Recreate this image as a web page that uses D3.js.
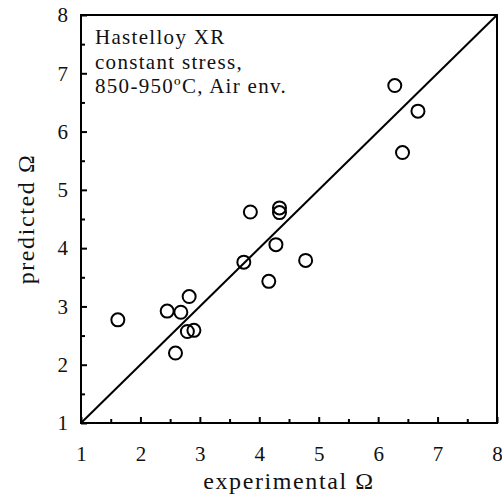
<!DOCTYPE html>
<html><head><meta charset="utf-8">
<script src="https://cdn.jsdelivr.net/npm/d3@7"></script>
<style>body{margin:0;background:#fff}svg{display:block}</style>
</head><body>
<svg id="c" width="502" height="495"></svg>
<script>
const experimental = [1.62,2.45,2.68,2.82,2.79,2.90,2.59,3.85,4.34,4.34,4.28,3.74,4.78,4.16,6.28,6.67,6.41];
const predicted    = [2.77,2.92,2.90,3.17,2.57,2.59,2.20,4.62,4.69,4.61,4.06,3.76,3.79,3.43,6.79,6.35,5.64];
const tickValues = [1,2,3,4,5,6,7,8];
const minorTicks = [1.5,2.5,3.5,4.5,5.5,6.5,7.5];
const annotation = ["Hastelloy XR","constant stress,","850-950ºC, Air env."];

const svg = d3.select("#c");
const L=81, R=497, T=15, B=423;
const x = d3.scaleLinear().domain([1,8]).range([L,R]);
const y = d3.scaleLinear().domain([1,8]).range([B,T]);
const font = "'Liberation Serif','Times New Roman',serif";

// minor ticks
const xm = svg.append("g").attr("transform",`translate(0,${B})`)
  .call(d3.axisBottom(x).tickValues(minorTicks).tickSize(-4).tickFormat(""));
const ym = svg.append("g").attr("transform",`translate(${L},0)`)
  .call(d3.axisLeft(y).tickValues(minorTicks).tickSize(-4).tickFormat(""));
// major ticks
const xa = svg.append("g").attr("transform",`translate(0,${B})`)
  .call(d3.axisBottom(x).tickValues(tickValues).tickSize(-6).tickPadding(23).tickFormat(d3.format("d")));
const ya = svg.append("g").attr("transform",`translate(${L},0)`)
  .call(d3.axisLeft(y).tickValues(tickValues).tickSize(-6).tickPadding(13).tickFormat(d3.format("d")));
[xm,ym,xa,ya].forEach(g=>{
  g.select(".domain").remove();
  g.selectAll("line").attr("stroke","#000").attr("stroke-width",2);
  g.selectAll("text").attr("font-family",font).attr("font-size",21).attr("fill","#111");
});

// frame
svg.append("rect").attr("x",L).attr("y",T).attr("width",R-L).attr("height",B-T)
  .attr("fill","none").attr("stroke","#000").attr("stroke-width",2);

// 1:1 line
svg.append("line").attr("x1",x(1)).attr("y1",y(1)).attr("x2",x(8)).attr("y2",y(8))
  .attr("stroke","#000").attr("stroke-width",2);

// points
svg.append("g").selectAll("circle").data(experimental.map((e,i)=>[e,predicted[i]]))
  .join("circle").attr("cx",d=>x(d[0])).attr("cy",d=>y(d[1])).attr("r",6.5)
  .attr("fill","none").attr("stroke","#000").attr("stroke-width",2);

// annotation
svg.append("g").selectAll("text").data(annotation).join("text")
  .attr("x",95).attr("y",(d,i)=>44+i*24.5)
  .attr("font-family",font).attr("font-size",21).attr("letter-spacing",1.3)
  .attr("fill","#111").text(d=>d);

// axis titles
svg.append("text").attr("x",(L+R)/2).attr("y",489).attr("text-anchor","middle")
  .attr("font-family",font).attr("font-size",24).attr("letter-spacing",1.6).attr("fill","#111").text("experimental Ω");
svg.append("text").attr("transform",`translate(34,${(T+B)/2}) rotate(-90)`).attr("text-anchor","middle")
  .attr("font-family",font).attr("font-size",24).attr("letter-spacing",1.6).attr("fill","#111").text("predicted Ω");
</script>
</body></html>
